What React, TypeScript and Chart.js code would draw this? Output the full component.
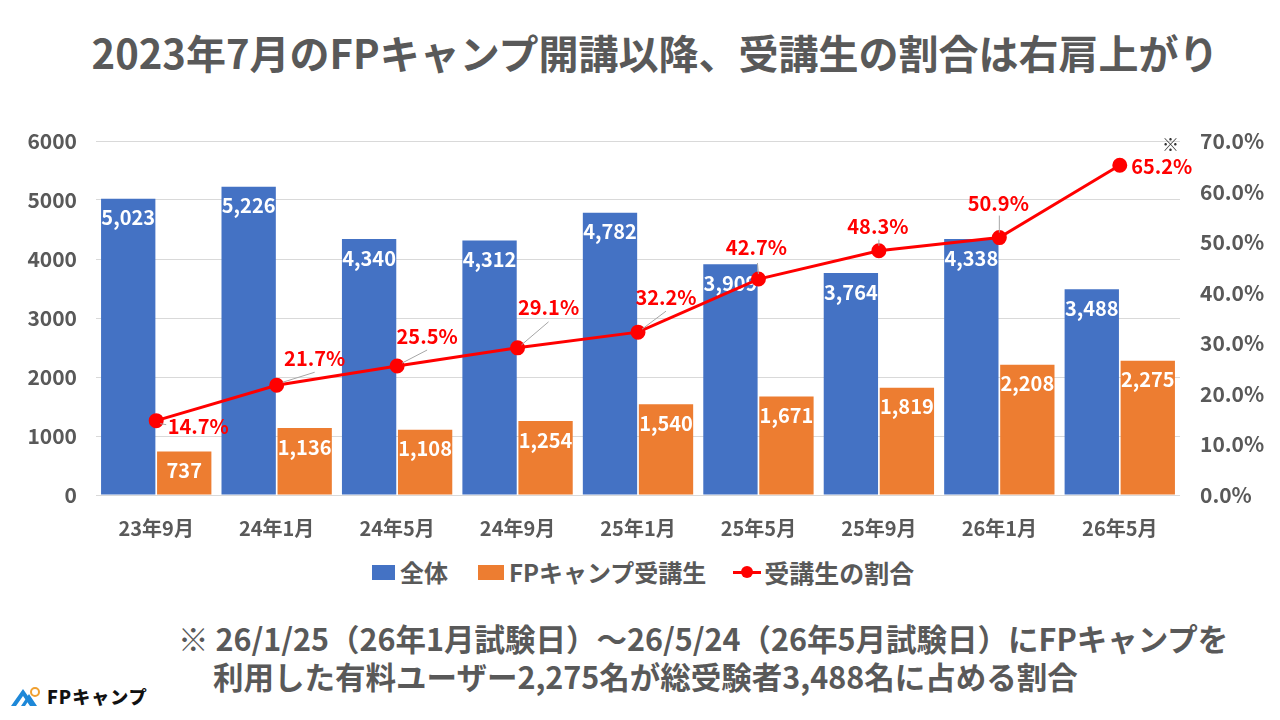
import { useEffect, useRef } from 'react'
import { Chart, registerables } from 'chart.js'

Chart.register(...registerables)

const FONT = "'Noto Sans CJK JP', 'Noto Sans', sans-serif"
const GRAY = '#595959'
const BLUE = '#4472C4'
const ORANGE = '#ED7D31'
const RED = '#FF0000'

// data
const categories = ['23年9月', '24年1月', '24年5月', '24年9月', '25年1月', '25年5月', '25年9月', '26年1月', '26年5月']
const totalExaminees = [5023, 5226, 4340, 4312, 4782, 3909, 3764, 4338, 3488]
const campStudents = [737, 1136, 1108, 1254, 1540, 1671, 1819, 2208, 2275]
const studentShare = [14.7, 21.7, 25.5, 29.1, 32.2, 42.7, 48.3, 50.9, 65.2]
const leftTicks = [0, 1000, 2000, 3000, 4000, 5000, 6000]
const rightTicks = [0, 10, 20, 30, 40, 50, 60, 70]

// label placement for the share line (offset of text centre from the point) + leader lines
const shareLabelOffsets = [[42, 6], [38, -27], [30, -30], [31, -40], [28, -35], [-2, -32], [-1, -24], [-1, -34], [42, 1]]
const shareLeaders: (number[] | null)[] = [
  [4, 3, 10, 4], [6, -3, 38, -13], [5, -3, 30, -16], [4, -3, 31, -26], [4, -3, 28, -21],
  [0, -5, -1, -16], [0, -5, 0, -11], [0, -5, 0, -22], null,
]

const labelPlugin = {
  id: 'valueLabels',
  afterDatasetDraw(chart: any, args: any) {
    const ds = chart.data.datasets[args.index]
    if (ds.type === 'line') return
    const ctx = chart.ctx
    ctx.save()
    ctx.font = `bold 20px ${FONT}`
    ctx.fillStyle = '#ffffff'
    ctx.textAlign = 'center'
    ctx.textBaseline = 'middle'
    args.meta.data.forEach((bar: any, i: number) => {
      ctx.fillText(Number(ds.data[i]).toLocaleString('en-US'), bar.x, bar.y + 19)
    })
    ctx.restore()
  },
  afterDatasetsDraw(chart: any) {
    const ctx = chart.ctx
    const meta = chart.getDatasetMeta(2)
    ctx.save()
    meta.data.forEach((pt: any, i: number) => {
      const lead = shareLeaders[i]
      if (lead) {
        ctx.strokeStyle = '#a6a6a6'
        ctx.lineWidth = 1
        ctx.beginPath()
        ctx.moveTo(pt.x + lead[0], pt.y + lead[1])
        ctx.lineTo(pt.x + lead[2], pt.y + lead[3])
        ctx.stroke()
      }
      const [dx, dy] = shareLabelOffsets[i]
      ctx.font = `bold 20px ${FONT}`
      ctx.fillStyle = RED
      ctx.textAlign = 'center'
      ctx.textBaseline = 'middle'
      ctx.fillText(studentShare[i].toFixed(1) + '%', pt.x + dx, pt.y + dy)
    })
    ctx.restore()
  },
}

// fixed axis boxes so the plot area lands where the reference has it
const fitVertical = (width: number) => (s: any) => {
  s.width = width
  s.paddingTop = 0
  s.paddingBottom = 0
}

function ShareChart() {
  const canvasRef = useRef<HTMLCanvasElement>(null)
  const chartRef = useRef<Chart | null>(null)

  useEffect(() => {
    if (!canvasRef.current) return
    if (chartRef.current) chartRef.current.destroy()

    chartRef.current = new Chart(canvasRef.current, {
      type: 'bar',
      data: {
        labels: categories,
        datasets: [
          { type: 'bar', label: '全体', data: totalExaminees, backgroundColor: BLUE, yAxisID: 'y', order: 1, categoryPercentage: 0.93, barPercentage: 0.97 },
          { type: 'bar', label: 'FPキャンプ受講生', data: campStudents, backgroundColor: ORANGE, yAxisID: 'y', order: 1, categoryPercentage: 0.93, barPercentage: 0.97 },
          { type: 'line', label: '受講生の割合', data: studentShare, borderColor: RED, backgroundColor: RED, borderWidth: 3, pointRadius: 6, pointBackgroundColor: RED, pointBorderColor: RED, yAxisID: 'y1', order: 0 },
        ] as any,
      },
      options: {
        responsive: true,
        maintainAspectRatio: false,
        animation: false,
        layout: { padding: { top: 21, left: 0, right: 0, bottom: 0 } },
        plugins: { legend: { display: false }, tooltip: { enabled: false } },
        scales: {
          x: {
            grid: { display: false },
            border: { display: false },
            ticks: { color: GRAY, font: { family: FONT, size: 20, weight: 'bold' }, padding: 13 },
            afterFit: (s: any) => { s.height = 45 },
          },
          y: {
            position: 'left',
            min: 0,
            max: 6000,
            afterBuildTicks: (s: any) => { s.ticks = leftTicks.map(v => ({ value: v })) },
            grid: { color: '#d9d9d9', lineWidth: 1, drawTicks: false },
            border: { display: false },
            ticks: { color: GRAY, font: { family: FONT, size: 21, weight: 'bold' }, padding: 19, callback: (v: any) => String(v) },
            afterFit: fitVertical(96),
          },
          y1: {
            position: 'right',
            min: 0,
            max: 70,
            afterBuildTicks: (s: any) => { s.ticks = rightTicks.map(v => ({ value: v })) },
            grid: { display: false, drawTicks: false },
            border: { display: false },
            ticks: { color: GRAY, font: { family: FONT, size: 21, weight: 'bold' }, padding: 20, callback: (v: any) => Number(v).toFixed(1) + '%' },
            afterFit: fitVertical(100),
          },
        },
      } as any,
      plugins: [labelPlugin],
    })

    return () => { chartRef.current?.destroy() }
  }, [])

  return (
    <div style={{ position: 'absolute', left: 0, top: 120, width: 1280, height: 420 }}>
      <canvas ref={canvasRef} />
    </div>
  )
}

function Logo() {
  return (
    <div style={{ position: 'absolute', left: 11, top: 685, display: 'flex', alignItems: 'center', gap: 4 }}>
      <svg width="32" height="22" viewBox="0 0 32 22">
        <polygon points="0,21 12,4 24,21 19,21 12,11 5,21" fill="#1e88d8" />
        <polygon points="10,21 18,9 26,21 22,21 18,15 14,21" fill="#1e88d8" />
        <circle cx="24" cy="7" r="4" fill="none" stroke="#f0a030" strokeWidth="2" />
      </svg>
      <span style={{ fontFamily: FONT, fontWeight: 900, fontSize: 18, color: '#111', letterSpacing: 1, lineHeight: '22px' }}>FPキャンプ</span>
    </div>
  )
}

export default function App() {
  const legendText = { fontFamily: FONT, fontWeight: 'bold' as const, fontSize: 24, color: GRAY, lineHeight: '28px' }
  const noteText = { fontFamily: FONT, fontWeight: 'bold' as const, fontSize: 30.5, lineHeight: '38px', color: GRAY, whiteSpace: 'nowrap' as const }
  return (
    <div style={{ position: 'absolute', left: 0, top: 0, width: 1280, height: 720, background: '#fff', overflow: 'hidden' }}>
      <div style={{ position: 'absolute', left: 15, top: 27, width: 1280, textAlign: 'center', fontFamily: FONT, fontWeight: 'bold', fontSize: 40, lineHeight: '50px', color: GRAY, whiteSpace: 'nowrap' }}>
        2023年7月のFPキャンプ開講以降、受講生の割合は右肩上がり
      </div>

      <ShareChart />

      <div style={{ position: 'absolute', left: 1162, top: 134, fontFamily: FONT, fontSize: 17, color: '#333', lineHeight: '20px' }}>※</div>

      <div style={{ position: 'absolute', left: 372, top: 558, display: 'flex', alignItems: 'center' }}>
        <span style={{ width: 23, height: 15, background: BLUE, marginRight: 5 }} />
        <span style={legendText}>全体</span>
        <span style={{ width: 26, height: 15, background: ORANGE, marginLeft: 30, marginRight: 5 }} />
        <span style={legendText}>FPキャンプ受講生</span>
        <span style={{ position: 'relative', width: 28, height: 15, marginLeft: 27, marginRight: 3 }}>
          <span style={{ position: 'absolute', left: 0, top: 6, width: 28, height: 3, background: RED }} />
          <span style={{ position: 'absolute', left: 8, top: 1.5, width: 12, height: 12, borderRadius: 6, background: RED }} />
        </span>
        <span style={{ ...legendText, fontSize: 25 }}>受講生の割合</span>
      </div>

      <div style={{ ...noteText, position: 'absolute', left: 178, top: 619 }}>
        ※ 26/1/25（26年1月試験日）～26/5/24（26年5月試験日）にFPキャンプを
      </div>
      <div style={{ ...noteText, position: 'absolute', left: 213, top: 657 }}>
        利用した有料ユーザー2,275名が総受験者3,488名に占める割合
      </div>

      <Logo />
    </div>
  )
}
